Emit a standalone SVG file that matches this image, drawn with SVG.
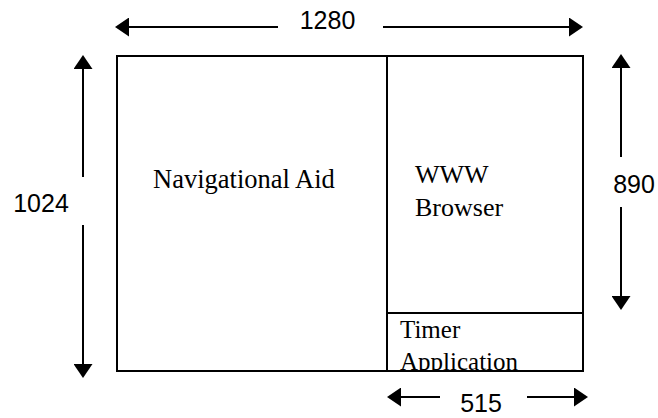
<svg xmlns="http://www.w3.org/2000/svg" width="658" height="418" viewBox="0 0 658 418">
  <style>
    .box { fill: none; stroke: #000; stroke-width: 2; }
    .dim { stroke: #000; stroke-width: 2; fill: none; marker-end: url(#head); }
    .num { font-family: "Liberation Sans", Arial, sans-serif; font-size: 25px; fill: #000; }
    .lbl { font-family: "Liberation Serif", "Times New Roman", serif; font-size: 26px; fill: #000; }
  </style>
  <defs>
    <marker id="head" viewBox="0 0 14 19" refX="12" refY="9.5" markerWidth="14" markerHeight="19" markerUnits="userSpaceOnUse" orient="auto">
      <path d="M0,0 L14,9.5 L0,19 z" fill="#000"/>
    </marker>
    <clipPath id="timerClip">
      <rect x="387" y="313" width="196" height="57"/>
    </clipPath>
  </defs>
  <rect width="658" height="418" fill="#fff"/>

  <!-- screen layout -->
  <g id="navigational-aid">
    <rect class="box" x="117" y="56" width="270" height="315"/>
    <text class="lbl" x="153" y="188" style="font-size:26.5px">Navigational Aid</text>
  </g>
  <g id="www-browser">
    <rect class="box" x="387" y="56" width="196" height="257"/>
    <text class="lbl" x="415" y="183">WWW</text>
    <text class="lbl" x="415" y="216">Browser</text>
  </g>
  <g id="timer-application">
    <rect class="box" x="387" y="313" width="196" height="58"/>
    <g clip-path="url(#timerClip)">
      <text class="lbl" x="400" y="338" style="font-size:25px">Timer</text>
      <text class="lbl" x="400" y="370" style="font-size:25px">Application</text>
    </g>
  </g>

  <!-- dimension arrows -->
  <g id="dimensions">
    <line class="dim" x1="278" y1="27" x2="117" y2="27"/>
    <line class="dim" x1="383" y1="27" x2="581" y2="27"/>
    <line class="dim" x1="83" y1="177" x2="83" y2="57"/>
    <line class="dim" x1="83" y1="225" x2="83" y2="376"/>
    <line class="dim" x1="621" y1="157" x2="621" y2="56"/>
    <line class="dim" x1="621" y1="207" x2="621" y2="308"/>
    <line class="dim" x1="440" y1="397" x2="389" y2="397"/>
    <line class="dim" x1="527" y1="397" x2="586" y2="397"/>
  </g>
  <g id="dimension-labels">
    <text class="num" x="327.5" y="29" text-anchor="middle">1280</text>
    <text class="num" x="41" y="212" text-anchor="middle">1024</text>
    <text class="num" x="634" y="193" text-anchor="middle">890</text>
    <text class="num" x="481" y="412" text-anchor="middle">515</text>
  </g>
</svg>
